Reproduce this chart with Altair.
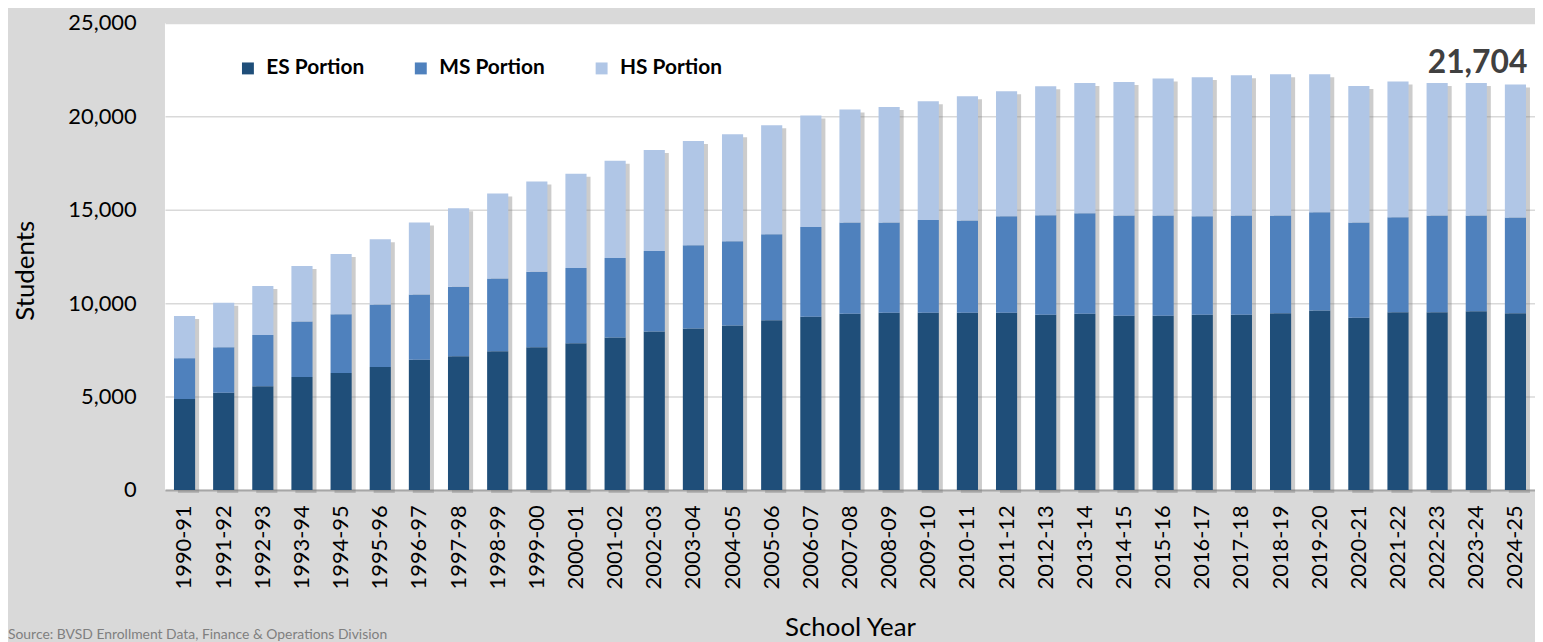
import altair as alt
import pandas as pd

years = ["1990-91", "1991-92", "1992-93", "1993-94", "1994-95", "1995-96", "1996-97",
         "1997-98", "1998-99", "1999-00", "2000-01", "2001-02", "2002-03", "2003-04",
         "2004-05", "2005-06", "2006-07", "2007-08", "2008-09", "2009-10", "2010-11",
         "2011-12", "2012-13", "2013-14", "2014-15", "2015-16", "2016-17", "2017-18",
         "2018-19", "2019-20", "2020-21", "2021-22", "2022-23", "2023-24", "2024-25"]

es_portion = [4868, 5203, 5556, 6049, 6261, 6579, 6966, 7161, 7425, 7637, 7848, 8166,
              8483, 8642, 8801, 9083, 9277, 9436, 9489, 9489, 9489, 9489, 9383, 9436,
              9330, 9330, 9383, 9383, 9453, 9612, 9224, 9506, 9506, 9560, 9453]
ms_portion = [2186, 2433, 2734, 2962, 3139, 3350, 3493, 3721, 3897, 4039, 4040, 4251,
              4305, 4463, 4516, 4604, 4797, 4886, 4833, 4956, 4939, 5167, 5326, 5379,
              5363, 5363, 5273, 5310, 5240, 5256, 5098, 5097, 5187, 5133, 5132]
hs_portion = [2258, 2381, 2626, 2982, 3229, 3493, 3863, 4197, 4551, 4832, 5043, 5203,
              5413, 5572, 5731, 5837, 5976, 6048, 6178, 6365, 6649, 6685, 6901, 6968,
              7142, 7336, 7444, 7513, 7565, 7390, 7302, 7267, 7090, 7090, 7119]

series_names = ["ES Portion", "MS Portion", "HS Portion"]
series_colors = ["#1F4E79", "#4F81BD", "#B0C6E6"]
y_ticks = [0, 5000, 10000, 15000, 20000, 25000]
source_text = "Source: BVSD Enrollment Data, Finance & Operations Division"

FONT = "Lato"

rows = []
for i, yr in enumerate(years):
    for k, (name, vals) in enumerate(zip(series_names, [es_portion, ms_portion, hs_portion])):
        rows.append({"year": yr, "series": name, "order": k, "value": vals[i]})
df = pd.DataFrame(rows)

totals = pd.DataFrame({
    "year": years,
    "total": [a + b + c for a, b, c in zip(es_portion, ms_portion, hs_portion)],
})
last = totals.tail(1).copy()
last["label"] = last["total"].map(lambda v: f"{v:,}")

x_axis = alt.Axis(
    title="School Year", labelAngle=-90, labelFont=FONT, labelFontSize=22,
    labelColor="#000000", labelPadding=15, ticks=False, tickSize=0,
    domain=True, domainColor="#a6a6a6", domainWidth=2, grid=False,
    titleFont=FONT, titleFontSize=26, titleFontWeight="normal", titleColor="#000000",
    titleY=147, titleBaseline="alphabetic",
)
x_enc = alt.X("year:N", sort=years,
              scale=alt.Scale(domain=years, paddingInner=0.46, paddingOuter=0.23),
              axis=x_axis)

y_scale = alt.Scale(domain=[0, 25000], nice=False)
y_axis = alt.Axis(
    title="Students", values=y_ticks, format=",.0f", labelFont=FONT, labelFontSize=22,
    labelColor="#000000", labelPadding=29, ticks=False, tickSize=0, domain=False,
    grid=True, gridColor="#d9d9d9", gridWidth=1.5,
    titleFont=FONT, titleFontSize=26, titleFontWeight="normal", titleColor="#000000",
    titleAngle=270, titleX=-140, titleY=249, titleAlign="center", titleBaseline="middle",
)

shadow = alt.Chart(totals).mark_bar(
    color="#7f7f7f", opacity=0.4, xOffset=4, yOffset=3
).encode(
    x=x_enc,
    y=alt.Y("total:Q", scale=y_scale, axis=y_axis),
)

bars = alt.Chart(df).mark_bar().encode(
    x=x_enc,
    y=alt.Y("value:Q", stack="zero", scale=y_scale, axis=y_axis),
    color=alt.Color(
        "series:N",
        scale=alt.Scale(domain=series_names, range=series_colors),
        legend=alt.Legend(
            title=None, orient="none", legendX=73, legendY=35, direction="horizontal",
            symbolType="square", symbolSize=144, symbolStrokeWidth=0, symbolOpacity=1,
            labelFont=FONT, labelFontSize=21, labelFontWeight="bold",
            labelColor="#000000", labelOffset=8, columnPadding=46, padding=0,
        ),
    ),
    order=alt.Order("order:Q", sort="ascending"),
)

annot = alt.Chart(last).mark_text(
    align="right", baseline="alphabetic", dx=12, dy=-12, fontSize=32,
    fontWeight="bold", color="#404040", font=FONT,
).encode(
    x=x_enc,
    y=alt.Y("total:Q", scale=y_scale, axis=y_axis),
    text="label:N",
)

source = alt.Chart(pd.DataFrame({"t": [source_text]})).mark_text(
    align="left", baseline="alphabetic", fontSize=14, color="#7f7f7f", font=FONT,
).encode(
    x=alt.value(-158),
    y=alt.value(620),
    text="t:N",
)

chart = alt.layer(shadow, bars, annot, source).properties(
    width=1379,
    height=470,
    background="#d9d9d9",
    padding={"left": 158, "top": 13, "right": 0, "bottom": 151},
    autosize=alt.AutoSizeParams(type="none"),
).configure_view(fill="white", strokeWidth=0)

chart.save("out.html", embed_options={"renderer": "svg", "actions": False})
